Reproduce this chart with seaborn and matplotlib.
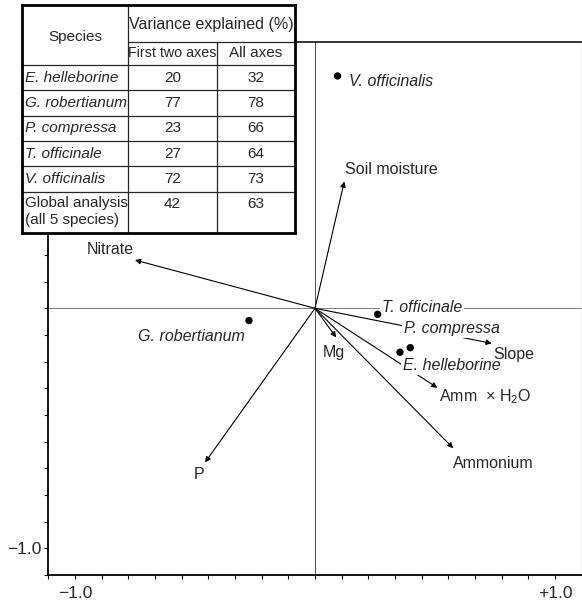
import numpy as np
import pandas as pd
import matplotlib
matplotlib.use("Agg")
import matplotlib.pyplot as plt
import seaborn as sns

# species scores (first two axes)
species = ["E. helleborine", "G. robertianum", "P. compressa", "T. officinale", "V. officinalis"]
species_x = [0.354, -0.275, 0.397, 0.261, 0.094]
species_y = [-0.183, -0.051, -0.164, -0.025, 0.968]

# environmental variable arrows
variables = ["Soil moisture", "Nitrate", "P", "Mg", "Slope", r"Amm  $\times$ H$_2$O", "Ammonium"]
var_x = [0.122, -0.750, -0.458, 0.088, 0.736, 0.510, 0.576]
var_y = [0.528, 0.201, -0.642, -0.121, -0.146, -0.331, -0.583]

# inset table
table_species = species + ["Global analysis\n(all 5 species)"]
first_two = [20, 77, 23, 27, 72, 42]
all_axes = [32, 78, 66, 64, 73, 63]

sns.set_style("white")
plt.rcParams["font.family"] = ["Liberation Sans", "DejaVu Sans"]
plt.rcParams["mathtext.default"] = "regular"

fig = plt.figure(figsize=(5.82, 6.05), dpi=100)
ax = fig.add_axes([48.3 / 582, 30 / 605, 533.4 / 582, 533.4 / 605])

lim = 10 / 9
ax.set_xlim(-lim, lim)
ax.set_ylim(-lim, lim)
ax.axhline(0, color="0.4", lw=0.6, zorder=1)
ax.axvline(0, color="0.3", lw=0.7, zorder=1)

# arrows from origin
for vx, vy in zip(var_x, var_y):
    ax.annotate("", xy=(vx, vy), xytext=(0, 0),
                arrowprops=dict(arrowstyle="-|>", color="black", lw=0.8,
                                mutation_scale=8, shrinkA=0, shrinkB=0),
                zorder=2)

df = pd.DataFrame({"species": species, "x": species_x, "y": species_y})
sns.scatterplot(data=df, x="x", y="y", color="black", s=28, edgecolor="none",
                ax=ax, zorder=5, legend=False)

# label offsets in pixels (dx, dy, ha)
species_off = {
    "E. helleborine": (3, -13, "left"),
    "G. robertianum": (-4, -15.5, "right"),
    "P. compressa": (-6, 19, "left"),
    "T. officinale": (4, 7, "left"),
    "V. officinalis": (11, -6, "left"),
}
var_off = [(1, 12, "left"), (-25, 11, "center"), (-6, -12, "center"),
           (-2, -15, "center"), (2, -11, "left"), (2, -9, "left"), (0, -15, "left")]

box = dict(boxstyle="square,pad=0.12", fc="white", ec="none")
for name, sx, sy in zip(species, species_x, species_y):
    dx, dy, ha = species_off[name]
    ax.annotate(name, (sx, sy), xytext=(dx, dy), textcoords="offset pixels",
                ha=ha, va="center", fontsize=11.5, style="italic",
                bbox=box, zorder=4)
for name, vx, vy, (dx, dy, ha) in zip(variables, var_x, var_y, var_off):
    ax.annotate(name, (vx, vy), xytext=(dx, dy), textcoords="offset pixels",
                ha=ha, va="center", fontsize=11.5, zorder=4)

ticks = np.arange(-10, 11) / 9
ax.set_xticks(ticks)
ax.set_yticks(ticks)
ax.set_xticklabels(["\u22121.0" if np.isclose(t, -1) else "+1.0" if np.isclose(t, 1) else "" for t in ticks])
ax.set_yticklabels(["\u22121.0" if np.isclose(t, -1) else "" for t in ticks])
ax.tick_params(direction="out", length=3, width=0.8, labelsize=12.5, pad=2,
               bottom=True, left=True, color="black")
ax.tick_params(axis="x", pad=5)
ax.set_xlabel("")
ax.set_ylabel("")
for side in ["left", "bottom"]:
    ax.spines[side].set_color("black")
    ax.spines[side].set_linewidth(1.3)
ax.spines["top"].set_color("black")
ax.spines["top"].set_linewidth(1.1)
ax.spines["right"].set_color("0.75")
ax.spines["right"].set_linewidth(1.0)

# table drawn in its own axes (pixel units)
tw, th = 273, 228
tab = fig.add_axes([22 / 582, (605 - 233) / 605, tw / 582, th / 605], zorder=10)
tab.set_xlim(0, tw)
tab.set_ylim(th, 0)
tab.set_facecolor("white")
tab.set_xticks([])
tab.set_yticks([])
for s in tab.spines.values():
    s.set_linewidth(2.0)
    s.set_color("black")

col_edges = [0, 106, 195, tw]
header_h = [36.7, 23.3]
row_h = [25.3] * 5 + [41.2]
row_edges = np.cumsum([0] + header_h + row_h)
lc = "0.15"
tab.plot([col_edges[1]] * 2, [0, th], color=lc, lw=0.9)
tab.plot([col_edges[2]] * 2, [row_edges[1], th], color=lc, lw=0.9)
tab.plot([col_edges[1], tw], [row_edges[1]] * 2, color=lc, lw=0.9)
for yy in row_edges[2:-1]:
    tab.plot([0, tw], [yy, yy], color=lc, lw=0.9)

fs = 11
tab.text(col_edges[1] / 2, row_edges[2] / 2 + 2, "Species", ha="center", va="center", fontsize=fs)
tab.text((col_edges[1] + tw) / 2, row_edges[1] / 2 + 1, "Variance explained (%)",
         ha="center", va="center", fontsize=11.5)
tab.text((col_edges[1] + col_edges[2]) / 2, (row_edges[1] + row_edges[2]) / 2,
         "First two axes", ha="center", va="center", fontsize=10.3)
tab.text((col_edges[2] + tw) / 2, (row_edges[1] + row_edges[2]) / 2,
         "All axes", ha="center", va="center", fontsize=fs)

for i, (name, a, b) in enumerate(zip(table_species, first_two, all_axes)):
    top, bot = row_edges[i + 2], row_edges[i + 3]
    if "\n" in name:
        yc = top + 12
        tab.text(3, top + 4, name, ha="left", va="top", fontsize=fs, linespacing=1.35)
    else:
        yc = (top + bot) / 2
        tab.text(3, yc, name, ha="left", va="center", fontsize=fs, style="italic")
    tab.text((col_edges[1] + col_edges[2]) / 2, yc, str(a), ha="center", va="center", fontsize=fs)
    tab.text((col_edges[2] + tw) / 2, yc, str(b), ha="center", va="center", fontsize=fs)

fig.savefig("out.png", dpi=100)
